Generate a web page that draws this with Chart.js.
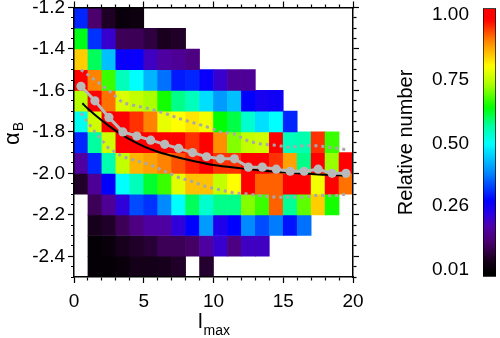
<!DOCTYPE html>
<html>
<head>
<meta charset="utf-8">
<script src="https://cdn.jsdelivr.net/npm/chart.js@4.4.0/dist/chart.umd.min.js"></script>
<style>
html, body { margin: 0; padding: 0; background: #fff; }
#wrap { position: relative; width: 500px; height: 338px; }
#main { position: absolute; left: 0; top: 0; }
#bar { position: absolute; left: 370px; top: 0; }
</style>
</head>
<body>
<div id="wrap">
<canvas id="main" width="500" height="338"></canvas>
<canvas id="bar" width="130" height="338"></canvas>
</div>
<script>
// bins
const binCentres = [0.5, 1.5, 2.5, 3.5, 4.5, 5.5, 6.5, 7.5, 8.5, 9.5, 10.5, 11.5, 12.5, 13.5, 14.5, 15.5, 16.5, 17.5, 18.5, 19.5];
const alphaRows = [-1.25, -1.35, -1.45, -1.55, -1.65, -1.75, -1.85, -1.95, -2.05, -2.15, -2.25, -2.35, -2.45];
const alphaBin = 0.1;

// relative number per cell, one array per alpha row (null = empty)
const r125 = [0.31, 0.12, 0.055, 0.02, 0.025];
const r135 = [0.63, 0.32, 0.21, 0.10, 0.10, 0.08, 0.05, 0.06];
const r145 = [0.84, 0.60, 0.44, 0.27, 0.27, 0.20, 0.17, 0.16, 0.14];
const r155 = [0.99, 0.90, 0.67, 0.55, 0.50, 0.43, 0.37, 0.30, 0.31, 0.27, 0.21, 0.16, 0.16];
const r165 = [0.74, 0.99, 0.91, 0.77, 0.75, 0.73, 0.65, 0.58, 0.55, 0.47, 0.405, 0.44, 0.28, 0.25, 0.26];
const r175 = [0.51, 0.76, 0.99, 0.99, 0.95, 0.90, 0.78, 0.80, 0.82, 0.79, 0.64, 0.61, 0.535, 0.47, 0.50, 0.31];
const r185 = [0.31, 0.57, 0.76, 0.99, 0.99, 0.99, 0.99, 0.99, 0.95, 0.99, 0.89, 0.71, 0.75, 0.76, 0.99, 0.55, 0.56, 0.95, 0.67];
const r195 = [0.17, 0.31, 0.56, 0.75, 0.86, 0.875, 0.90, 0.93, 0.96, 0.99, 0.95, 0.95, 0.99, 0.98, 0.95, 0.875, 0.58, 0.99, 0.72, 0.99];
const r205 = [0.06, 0.16, 0.28, 0.50, 0.55, 0.62, 0.67, 0.775, 0.85, 0.85, 0.75, 0.80, 0.99, 0.92, 0.92, 0.99, 0.99, 0.79, 0.99, 0.91];
const r215 = [null, 0.10, 0.16, 0.22, 0.34, 0.32, 0.39, 0.50, 0.60, 0.535, 0.58, 0.58, 0.71, 0.67, 0.92, 0.575, 0.69, 0.84, 0.65];
const r225 = [null, 0.045, 0.06, 0.10, 0.14, 0.17, 0.17, 0.22, 0.28, 0.405, 0.24, 0.28, 0.39, 0.34, 0.38, 0.295, 0.37];
const r235 = [null, 0.01, 0.02, 0.045, 0.06, 0.07, 0.10, 0.10, 0.11, 0.17, 0.21, 0.14, 0.20, 0.20];
const r245 = [null, 0.01, 0.01, 0.02, 0.04, 0.04, 0.045, 0.06, null, 0.065];
const rows = [r125, r135, r145, r155, r165, r175, r185, r195, r205, r215, r225, r235, r245];

// overlay curves
const meanAlpha = [-1.58, -1.65, -1.73, -1.80, -1.82, -1.84, -1.86, -1.88, -1.90, -1.92, -1.93, -1.93, -1.97, -1.97, -1.98, -1.99, -1.99, -1.98, -2.00, -2.00];
const upperAlpha = [-1.50, -1.55, -1.60, -1.66, -1.675, -1.69, -1.71, -1.735, -1.755, -1.775, -1.80, -1.81, -1.845, -1.86, -1.865, -1.875, -1.866, -1.867, -1.876, -1.885];
const lowerAlpha = [-1.71, -1.80, -1.88, -1.92, -1.94, -1.96, -1.99, -2.02, -2.04, -2.065, -2.08, -2.095, -2.10, -2.11, -2.115, -2.115, -2.115, -2.105, -2.11, -2.10];
const fitX = [0.6, 1, 2, 3, 4, 5, 6, 7, 8, 10, 12, 14, 16, 18, 19.4];
const fitAlpha = [-1.662, -1.688, -1.745, -1.795, -1.836, -1.870, -1.896, -1.915, -1.932, -1.960, -1.976, -1.990, -2.000, -2.007, -2.011];

// ticks and labels
const xMajor = [0, 5, 10, 15, 20];
const yMajor = [-1.2, -1.4, -1.6, -1.8, -2.0, -2.2, -2.4];
const cbTicks = [0.01, 0.26, 0.50, 0.75, 1.00];
const cbTickLabels = ['0.01', '0.26', '0.50', '0.75', '1.00'];
const cbRange = [-0.015, 1.025];
const xTitle = ['l', 'max'];
const yTitle = ['α', 'B'];
const cbTitle = 'Relative number';

const FONT = "'Liberation Sans', Arial, sans-serif";
Chart.defaults.font.family = FONT;
Chart.defaults.color = '#000';

// rainbow colour table
const cmapStops = [
    [0.00, 0, 0, 0],
    [0.05, 25, 0, 30],
    [0.12, 75, 0, 110],
    [0.18, 80, 0, 170],
    [0.23, 40, 0, 230],
    [0.28, 0, 0, 255],
    [0.40, 0, 150, 255],
    [0.50, 0, 255, 255],
    [0.57, 0, 255, 160],
    [0.64, 0, 255, 0],
    [0.73, 170, 255, 0],
    [0.80, 255, 255, 0],
    [0.90, 255, 130, 0],
    [0.98, 255, 0, 0],
    [1.00, 255, 0, 0]
];

function cmap(v){
    v = Math.max(0, Math.min(1, v));
    for(let i=1; i<cmapStops.length; i++){
        const a = cmapStops[i-1], b = cmapStops[i];
        if(v <= b[0]){
            const t = (v - a[0]) / (b[0] - a[0]);
            const c = [1,2,3].map(k => Math.round(a[k] + (b[k]-a[k])*t));
            return 'rgb(' + c.join(',') + ')';
        }
    }
    return 'rgb(255,0,0)';
}

function isMajor(list, v){
    return list.some(m => Math.abs(m - v) < 1e-6);
}

// minor ticks: draw only the 3px next to the axis line
function tickDash(list, startsAtAxis){
    return function(ctx){
        if(!ctx.tick || isMajor(list, ctx.tick.value)) return [];
        return startsAtAxis ? [3, 100] : [0, 3, 3, 100];
    };
}

function makeHeatSets(){
    let sets = new Array();
    for(let r=0; r<rows.length; r++){
        let data = new Array();
        let colours = new Array();
        rows[r].forEach((v, c) => {
            if(v === null) return;
            data.push({x: binCentres[c], y: [alphaRows[r] - alphaBin/2, alphaRows[r] + alphaBin/2]});
            colours.push(cmap(v));
        });
        sets.push({
            type: 'bar',
            data: data,
            backgroundColor: colours,
            borderWidth: 0,
            barPercentage: 1,
            categoryPercentage: 1,
            grouped: false,
            xAxisID: 'x',
            yAxisID: 'y',
            order: 10
        });
    }
    return sets;
}

function xy(xs, ys){
    return xs.map((x, i) => ({x: x, y: ys[i]}));
}

const axisTitles = {
    id: 'axisTitles',
    afterDraw(chart){
        const {ctx, chartArea} = chart;
        ctx.save();
        ctx.fillStyle = '#000';
        ctx.textBaseline = 'alphabetic';
        ctx.textAlign = 'left';

        // x title with subscript
        ctx.font = '21px ' + FONT;
        const w1 = ctx.measureText(xTitle[0]).width;
        ctx.font = '14px ' + FONT;
        const w2 = ctx.measureText(xTitle[1]).width;
        let x0 = (chartArea.left + chartArea.right)/2 - (w1 + w2)/2;
        ctx.font = '21px ' + FONT;
        ctx.fillText(xTitle[0], x0, 328);
        ctx.font = '14px ' + FONT;
        ctx.fillText(xTitle[1], x0 + w1 + 1, 335);

        // y title, rotated
        ctx.translate(19, 134);
        ctx.rotate(-Math.PI/2);
        ctx.font = '22px ' + FONT;
        const a1 = ctx.measureText(yTitle[0]).width;
        ctx.font = '14px ' + FONT;
        const a2 = ctx.measureText(yTitle[1]).width;
        let s = -(a1 + a2)/2;
        ctx.font = '22px ' + FONT;
        ctx.fillText(yTitle[0], s, 0);
        ctx.font = '14px ' + FONT;
        ctx.fillText(yTitle[1], s + a1 + 1, 4);
        ctx.restore();
    }
};

function axisStyle(list, startsAtAxis){
    return {
        grid: {
            display: true,
            drawOnChartArea: false,
            offset: false,
            tickLength: 6,
            tickColor: '#000',
            tickWidth: 1.2,
            tickBorderDash: tickDash(list, startsAtAxis)
        },
        border: {display: true, color: '#000', width: 1.5, z: 2}
    };
}

const xBase = axisStyle(xMajor, true);
const x2Base = axisStyle(xMajor, false);
const yBase = axisStyle(yMajor, false);
const y2Base = axisStyle(yMajor, true);

const datasets = makeHeatSets().concat([
    {
        type: 'line', data: xy(binCentres, upperAlpha),
        borderColor: '#a9a9a9', borderWidth: 3, borderDash: [3, 4],
        pointRadius: 0, fill: false, tension: 0, order: 3
    },
    {
        type: 'line', data: xy(binCentres, lowerAlpha),
        borderColor: '#a9a9a9', borderWidth: 3, borderDash: [3, 4],
        pointRadius: 0, fill: false, tension: 0, order: 3
    },
    {
        type: 'line', data: xy(fitX, fitAlpha),
        borderColor: '#000', borderWidth: 2,
        pointRadius: 0, fill: false, cubicInterpolationMode: 'monotone', order: 2
    },
    {
        type: 'line', data: xy(binCentres, meanAlpha),
        borderColor: '#b9b9b9', borderWidth: 3,
        pointRadius: 4.6, pointBackgroundColor: '#b9b9b9', pointBorderWidth: 0,
        fill: false, tension: 0, order: 1
    }
]);

new Chart(document.getElementById('main'), {
    type: 'bar',
    data: {datasets: datasets},
    options: {
        responsive: false,
        animation: false,
        layout: {padding: 0},
        plugins: {legend: {display: false}, tooltip: {enabled: false}},
        scales: {
            x: {
                type: 'linear', position: 'bottom', min: 0, max: 20, offset: false,
                ticks: {
                    stepSize: 1, autoSkip: false, maxRotation: 0, padding: 7, maxTicksLimit: 100,
                    font: {size: 19},
                    callback: v => isMajor(xMajor, v) ? String(Math.round(v)) : ''
                },
                grid: xBase.grid, border: xBase.border,
                afterFit: s => { s.height = 61; s.paddingLeft = 0; s.paddingRight = 0; }
            },
            x2: {
                type: 'linear', position: 'top', min: 0, max: 20, offset: false,
                ticks: {display: false, stepSize: 1, autoSkip: false, maxTicksLimit: 100},
                grid: x2Base.grid, border: x2Base.border,
                afterFit: s => { s.height = 7.5; s.paddingLeft = 0; s.paddingRight = 0; }
            },
            y: {
                type: 'linear', position: 'left', min: -2.5, max: -1.2,
                ticks: {
                    stepSize: 0.05, autoSkip: false, padding: 3, maxTicksLimit: 100,
                    font: {size: 19},
                    callback: v => isMajor(yMajor, v) ? v.toFixed(1) : ''
                },
                grid: yBase.grid, border: yBase.border,
                afterFit: s => { s.width = 74; s.paddingTop = 0; s.paddingBottom = 0; }
            },
            y2: {
                type: 'linear', position: 'right', min: -2.5, max: -1.2,
                ticks: {display: false, stepSize: 0.05, autoSkip: false, maxTicksLimit: 100},
                grid: y2Base.grid, border: y2Base.border,
                afterFit: s => { s.width = 147; s.paddingTop = 0; s.paddingBottom = 0; }
            }
        }
    },
    plugins: [axisTitles]
});

// colour bar
function barGradient(context){
    const {ctx, chartArea} = context.chart;
    if(!chartArea) return null;
    const g = ctx.createLinearGradient(0, chartArea.bottom, 0, chartArea.top);
    const n = 80;
    for(let i=0; i<=n; i++){
        const v = cbRange[0] + (cbRange[1] - cbRange[0]) * i / n;
        g.addColorStop(i/n, cmap(v));
    }
    return g;
}

new Chart(document.getElementById('bar'), {
    type: 'bar',
    data: {
        labels: [''],
        datasets: [{
            data: [cbRange],
            backgroundColor: barGradient,
            borderColor: '#000',
            borderWidth: 1,
            borderSkipped: false,
            barPercentage: 1,
            categoryPercentage: 1
        }]
    },
    options: {
        responsive: false,
        animation: false,
        layout: {padding: {top: 8.3, right: 4, bottom: 61.3, left: 0}},
        plugins: {legend: {display: false}, tooltip: {enabled: false}},
        scales: {
            x: {display: false},
            y: {
                min: cbRange[0], max: cbRange[1],
                afterBuildTicks: s => { s.ticks = cbTicks.map(v => ({value: v})); },
                ticks: {padding: 6, font: {size: 19}, callback: (v, i) => cbTickLabels[i]},
                grid: {display: false},
                border: {display: false},
                title: {display: true, text: cbTitle, font: {size: 20, lineHeight: 1.2}, padding: {top: 24.6, bottom: 0}},
                afterFit: s => { s.width = 113; s.paddingTop = 0; s.paddingBottom = 0; }
            }
        }
    }
});
</script>
</body>
</html>
